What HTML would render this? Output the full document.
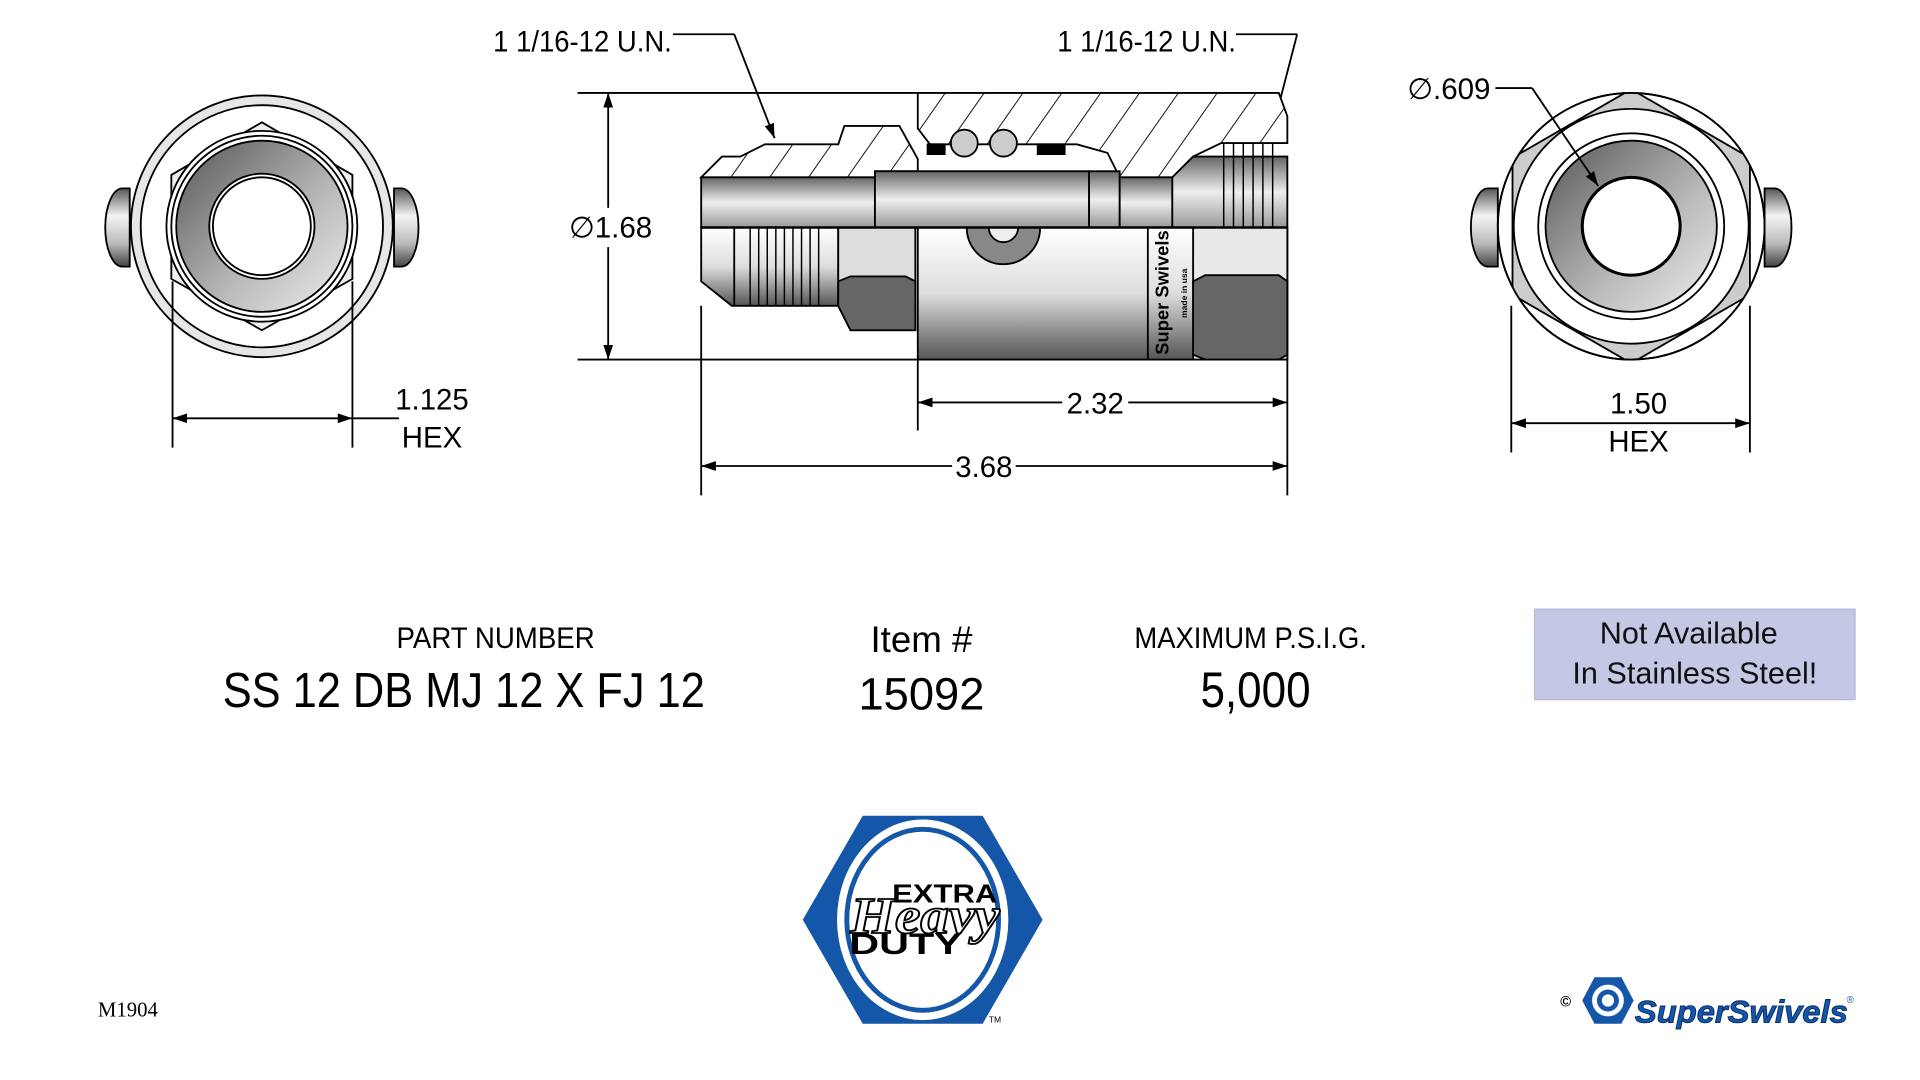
<!DOCTYPE html>
<html><head><meta charset="utf-8"><style>html,body{margin:0;padding:0;background:#fff;overflow:hidden}svg{display:block}</style></head>
<body>
<svg width="1920" height="1080" viewBox="0 0 1569 883" preserveAspectRatio="none" xmlns="http://www.w3.org/2000/svg" font-family="Liberation Sans, sans-serif">
<defs>
<linearGradient id="gv" x1="0" y1="0" x2="0" y2="1"><stop offset="0" stop-color="#555"/><stop offset=".35" stop-color="#f4f4f4"/><stop offset=".7" stop-color="#bbb"/><stop offset="1" stop-color="#444"/></linearGradient>
<linearGradient id="gb" x1="0" y1="0" x2="0" y2="1"><stop offset="0" stop-color="#fff"/><stop offset=".5" stop-color="#ddd"/><stop offset="1" stop-color="#555"/></linearGradient>
<linearGradient id="gbore" x1="0" y1="0" x2="0" y2="1"><stop offset="0" stop-color="#666"/><stop offset=".5" stop-color="#eee"/><stop offset="1" stop-color="#999"/></linearGradient>
<linearGradient id="gring" x1="0" y1="0" x2="1" y2="1"><stop offset="0" stop-color="#555"/><stop offset=".6" stop-color="#bbb"/><stop offset="1" stop-color="#eee"/></linearGradient>
<clipPath id="cc"><circle cx="1333" cy="185" r="109"/></clipPath>
<pattern id="hatch" width="26" height="26" patternUnits="userSpaceOnUse" patternTransform="rotate(35)"><rect width="26" height="26" fill="#fff"/><line x1="0" y1="0" x2="0" y2="26" stroke="#000" stroke-width="1.5"/></pattern>
<marker id="ar" markerWidth="12" markerHeight="8" refX="12" refY="4" orient="auto-start-reverse" markerUnits="userSpaceOnUse"><path d="M0,0 L12,4 L0,8z" fill="#000"/></marker>
</defs>
<g stroke="#000" stroke-width="1.5" fill="none">
<path d="M106,154 L100,154 A14,32 0 0 0 100,218 L106,218Z" fill="url(#gv)"/>
<path d="M322,154 L328,154 A14,32 0 0 1 328,218 L322,218Z" fill="url(#gv)"/>
<circle cx="214" cy="185" r="107" fill="#e6e6e6"/>
<circle cx="214" cy="185" r="99" fill="#fff"/>
<polygon points="214,100 288,143 288,228 214,270 140,228 140,143" fill="#eee"/>
<circle cx="214" cy="185" r="78" fill="#fff"/>
<circle cx="214" cy="185" r="74" fill="none"/>
<circle cx="214" cy="185" r="70" fill="url(#gring)"/>
<circle cx="214" cy="185" r="43" fill="#fff"/>
<circle cx="214" cy="185" r="40" fill="#fff"/>
<line x1="141" y1="230" x2="141" y2="366"/><line x1="288" y1="230" x2="288" y2="366"/>
<line x1="141" y1="342" x2="288" y2="342" marker-start="url(#ar)" marker-end="url(#ar)"/>
<line x1="288" y1="342" x2="326" y2="342"/>
<path d="M1224,154 L1216,154 A14,32 0 0 0 1216,218 L1224,218Z" fill="url(#gv)"/>
<path d="M1442,154 L1450,154 A14,32 0 0 1 1450,218 L1442,218Z" fill="url(#gv)"/>
<circle cx="1333" cy="185" r="109" fill="#fff"/>
<polygon clip-path="url(#cc)" points="1236,129 1333,73 1430,129 1430,241 1333,297 1236,241" fill="#ccc"/>
<circle cx="1333" cy="185" r="109" fill="none"/>
<circle cx="1333" cy="185" r="96" fill="#fff"/>
<circle cx="1333" cy="185" r="76" fill="#fff"/>
<circle cx="1333" cy="185" r="70" fill="url(#gring)"/>
<circle cx="1333" cy="185" r="40" fill="#fff" stroke-width="2.5"/>
<line x1="1222" y1="72" x2="1252" y2="72"/><line x1="1252" y1="72" x2="1306" y2="152" marker-end="url(#ar)"/>
<line x1="1235" y1="250" x2="1235" y2="370"/><line x1="1430" y1="250" x2="1430" y2="370"/>
<line x1="1235" y1="346" x2="1430" y2="346" marker-start="url(#ar)" marker-end="url(#ar)"/>
<line x1="472" y1="76" x2="750" y2="76"/><line x1="472" y1="294" x2="750" y2="294"/>
<line x1="497" y1="76" x2="497" y2="170" marker-start="url(#ar)"/><line x1="497" y1="202" x2="497" y2="294" marker-end="url(#ar)"/>
<line x1="750" y1="294" x2="750" y2="352"/><line x1="1052" y1="294" x2="1052" y2="405"/><line x1="573" y1="250" x2="573" y2="405"/>
<line x1="750" y1="329" x2="868" y2="329" marker-start="url(#ar)"/><line x1="922" y1="329" x2="1052" y2="329" marker-end="url(#ar)"/>
<line x1="573" y1="381" x2="778" y2="381" marker-start="url(#ar)"/><line x1="830" y1="381" x2="1052" y2="381" marker-end="url(#ar)"/>
<line x1="550" y1="28" x2="600" y2="28"/><line x1="600" y1="28" x2="633" y2="113" marker-end="url(#ar)"/>
<line x1="1010" y1="28" x2="1060" y2="28"/><line x1="1060" y1="28" x2="1037" y2="117" marker-end="url(#ar)"/>
<path d="M573,186 L685,186 L685,250 L598,250 L573,230 Z" fill="url(#gb)"/>
<line x1="600" y1="186" x2="600" y2="250"/>
<g stroke-width="1.2"><line x1="613" y1="186" x2="613" y2="250"/><line x1="620" y1="186" x2="620" y2="250"/><line x1="627" y1="186" x2="627" y2="250"/><line x1="634" y1="186" x2="634" y2="250"/><line x1="641" y1="186" x2="641" y2="250"/><line x1="648" y1="186" x2="648" y2="250"/><line x1="655" y1="186" x2="655" y2="250"/><line x1="662" y1="186" x2="662" y2="250"/><line x1="669" y1="186" x2="669" y2="250"/></g>
<path d="M685,186 L748,186 L748,270 L695,270 L685,250 Z" fill="#ddd"/>
<path d="M685,230 L695,226 L740,226 L748,230 L748,270 L695,270 L685,250Z" fill="#666"/>
<path d="M573,145 L590,128 L605,128 L625,118 L665,118 L685,118 L690,103 L735,103 L750,130 L750,140 L715,140 L715,145 Z" fill="url(#hatch)"/>
<rect x="573" y="145" width="142" height="41" fill="url(#gbore)"/>
<rect x="715" y="140" width="175" height="46" fill="url(#gbore)"/>
<rect x="750" y="186" width="302" height="108" fill="url(#gb)"/>
<path d="M975,186 L1052,186 L1052,294 L975,294Z" fill="#e8e8e8"/>
<path d="M975,230 L985,225 L1045,225 L1052,230 L1052,290 L1045,294 L985,294 L975,290Z" fill="#666"/>
<line x1="938" y1="186" x2="938" y2="294"/>
<path d="M790,186 A30,30 0 0 0 850,186Z" fill="#888"/>
<path d="M808,186 A12,12 0 0 0 832,186Z" fill="#eee"/>
<path d="M750,76 L1045,76 L1052,95 L1052,117 L998,117 L975,128 L958,145 L915,145 L905,125 L880,118 L760,118 L750,105Z" fill="url(#hatch)"/>
<rect x="890" y="140" width="25" height="46" fill="url(#gbore)"/>
<rect x="915" y="145" width="43" height="41" fill="url(#gbore)"/>
<path d="M958,145 L975,128 L1052,128 L1052,186 L958,186Z" fill="url(#gbore)"/>
<g stroke-width="1.2"><line x1="1000" y1="117" x2="1000" y2="186"/><line x1="1008" y1="117" x2="1008" y2="186"/><line x1="1016" y1="117" x2="1016" y2="186"/><line x1="1024" y1="117" x2="1024" y2="186"/><line x1="1032" y1="117" x2="1032" y2="186"/><line x1="1040" y1="117" x2="1040" y2="186"/></g>
<circle cx="788" cy="117" r="11" fill="#ccc"/><circle cx="820" cy="117" r="11" fill="#ccc"/>
<rect x="758" y="118" width="14" height="8" fill="#000"/><rect x="848" y="118" width="22" height="8" fill="#000"/>
<line x1="573" y1="186" x2="1052" y2="186" stroke-width="2"/>
</g>
<g fill="#000" font-size="24">
<text x="476" y="42" text-anchor="middle" textLength="146" lengthAdjust="spacingAndGlyphs">1 1/16-12 U.N.</text>
<text x="937" y="42" text-anchor="middle" textLength="146" lengthAdjust="spacingAndGlyphs">1 1/16-12 U.N.</text>
<text x="1150" y="81" textLength="68" lengthAdjust="spacingAndGlyphs">∅.609</text>
<text x="465" y="194" textLength="68" lengthAdjust="spacingAndGlyphs">∅1.68</text>
<text x="353" y="335" text-anchor="middle">1.125</text>
<text x="353" y="366" text-anchor="middle">HEX</text>
<text x="1339" y="338" text-anchor="middle">1.50</text>
<text x="1339" y="369" text-anchor="middle">HEX</text>
<text x="895" y="338" text-anchor="middle">2.32</text>
<text x="804" y="390" text-anchor="middle">3.68</text>
<text transform="translate(955,290) rotate(-90)" font-size="15" font-weight="bold">Super Swivels</text>
<text transform="translate(970,260) rotate(-90)" font-size="7" font-weight="bold">made in usa</text>
<text x="405" y="530" text-anchor="middle" textLength="162" lengthAdjust="spacingAndGlyphs">PART NUMBER</text>
<text x="379" y="578" text-anchor="middle" font-size="40" textLength="394" lengthAdjust="spacingAndGlyphs">SS 12 DB MJ 12 X FJ 12</text>
<text x="753" y="533" text-anchor="middle" font-size="30">Item #</text>
<text x="753" y="580" text-anchor="middle" font-size="37">15092</text>
<text x="1022" y="530" text-anchor="middle" textLength="190" lengthAdjust="spacingAndGlyphs">MAXIMUM P.S.I.G.</text>
<text x="1026" y="578" text-anchor="middle" font-size="41" textLength="90" lengthAdjust="spacingAndGlyphs">5,000</text>
</g>
<rect x="1254" y="498" width="262" height="74" fill="#c5c8e4" stroke="#b8bbd8"/>
<text x="1380" y="526" text-anchor="middle" font-size="25" fill="#111">Not Available</text>
<text x="1385" y="559" text-anchor="middle" font-size="25" fill="#111">In Stainless Steel!</text>
<polygon points="656,752 705,667 803,667 852,752 803,837 705,837" fill="#1457a8"/>
<ellipse cx="754" cy="752" rx="70" ry="82" fill="#fff"/>
<ellipse cx="754" cy="752" rx="62" ry="74" fill="none" stroke="#1457a8" stroke-width="4"/>
<ellipse cx="754" cy="752" rx="54" ry="66" fill="#fff"/>
<text x="695" y="763" font-size="42" font-family="Liberation Serif, serif" font-weight="bold" font-style="italic" fill="#fff" stroke="#000" stroke-width="1.5" textLength="122" lengthAdjust="spacingAndGlyphs">Heavy</text>
<text x="729" y="738" font-size="21" font-weight="bold" fill="#000" textLength="86" lengthAdjust="spacingAndGlyphs">EXTRA</text>
<text x="694" y="780" font-size="24" font-weight="bold" fill="#000" textLength="92" lengthAdjust="spacingAndGlyphs">DUTY</text>
<text x="808" y="836" font-size="7">TM</text>
<text x="80" y="831" font-size="17" font-family="Liberation Serif, serif">M1904</text>
<text x="1275" y="823" font-size="12" font-weight="bold">©</text>
<polygon points="1293,818 1303,799 1325,799 1335,818 1325,837 1303,837" fill="#1457a8"/>
<circle cx="1314" cy="818" r="13" fill="#fff"/><circle cx="1314" cy="818" r="9" fill="#1457a8"/><circle cx="1314" cy="818" r="5" fill="#fff"/>
<text x="1336" y="836" font-size="26" font-weight="bold" font-style="italic" fill="#1457a8" stroke="#0b2f6b" stroke-width="0.8" textLength="174" lengthAdjust="spacingAndGlyphs">SuperSwivels</text>
<text x="1509" y="820" font-size="8" fill="#1457a8">®</text>
</svg>
</body></html>
